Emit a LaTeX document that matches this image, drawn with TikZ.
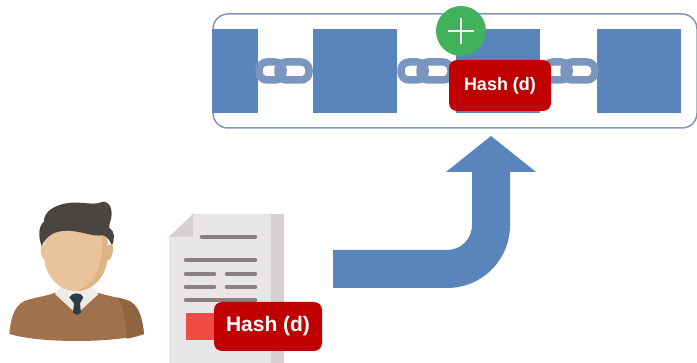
\documentclass[tikz,border=0pt]{standalone}
\usepackage{fontspec}
\setmainfont{Liberation Sans}
\definecolor{blk}{HTML}{5A85BC}
\definecolor{lnk}{HTML}{7A95BE}
\definecolor{hashred}{HTML}{C00000}
\definecolor{grn}{HTML}{41B15C}
\definecolor{frame}{HTML}{8197BA}
\definecolor{docbody}{HTML}{E9E6EA}
\definecolor{docband}{HTML}{D6CFD4}
\definecolor{docline}{HTML}{8B8080}
\definecolor{docmark}{HTML}{F44A46}
\definecolor{hair}{HTML}{4B4541}
\definecolor{skin}{HTML}{E9C39A}
\definecolor{skind}{HTML}{DDB284}
\definecolor{sweater}{HTML}{A0714A}
\definecolor{sweaterd}{HTML}{8F6640}
\definecolor{tie}{HTML}{2F3C46}
\definecolor{shirt}{HTML}{ECEBE6}
\tikzset{
 x=1pt,y=-1pt,
 block/.style={fill=blk,draw=none},
 hashbox/.style={fill=hashred,rounded corners=8pt,text=white,font=\bfseries,inner sep=0pt,align=center},
 linkring/.style={draw=lnk,line width=7.5pt,rounded corners=8pt},
 docrule/.style={draw=docline,line width=4.6pt,line cap=round},
}
\newcommand{\chainlink}[1]{%
 \begin{scope}[shift={(#1,71)}]
  \draw[linkring] (-25,-9) rectangle (-1,9);
  \draw[linkring] (-6,-9) rectangle (25,9);
 \end{scope}}
\begin{document}
\begin{tikzpicture}
\useasboundingbox (0,0) rectangle (697,363);
\fill[white] (0,0) rectangle (697,363);
% chain frame
\begin{scope}
\clip (0,0) rectangle (697,363);
\draw[frame,line width=1.5pt,rounded corners=15pt,fill=white] (213,14) rectangle (697,128);
\end{scope}
\path[block] (212,29) rectangle (258,113);
\path[block] (313,29) rectangle (397,113);
\path[block] (456,29) rectangle (540,113);
\path[block] (597,29) rectangle (681,113);
\chainlink{284}\chainlink{426}\chainlink{570}
\node[circle,fill=grn,minimum size=50pt,inner sep=0pt] (plus) at (461,31) {};
\draw[white,line width=1.2pt] (plus.center) ++(-13,0) -- ++(26,0);
\draw[white,line width=1.2pt] (plus.center) ++(0,-13) -- ++(0,26);
\node[hashbox,minimum width=102pt,minimum height=51pt] (hashtop) at (500,85.5) {\fontsize{18pt}{20pt}\selectfont Hash (d)};
% arrow
\fill[blk] (333,250) -- (447,250) .. controls (461,250) and (472,239) .. (472,225) -- (472,172) -- (446,172) -- (491,136) -- (536,172) -- (510,172) -- (510,225) .. controls (510,260) and (482,288) .. (447,288) -- (333,288) -- cycle;
% person
\begin{scope}[shift={(0,190)},x=0.3333pt,y=-0.3333pt]
 \fill[sweater] (28,432) .. controls (32,390) and (40,350) .. (72,334) .. controls (100,322) and (145,318) .. (165,308) -- (295,308) .. controls (318,318) and (360,322) .. (390,334) .. controls (420,350) and (428,395) .. (432,432) .. controls (340,460) and (120,460) .. (28,432) -- cycle;
 \fill[sweaterd] (352,322) .. controls (372,345) and (378,400) .. (380,446) .. controls (400,443) and (418,437) .. (432,432) .. controls (428,395) and (420,350) .. (390,334) .. controls (378,329) and (365,326) .. (352,322) -- cycle;
 \fill[shirt] (165,312) -- (190,280) -- (270,280) -- (296,312) -- (230,372) -- cycle;
 \fill[skin] (124,165) .. controls (118,190) and (128,215) .. (142,210) -- (145,165) -- cycle;
 \fill[skind] (338,165) .. controls (342,190) and (332,218) .. (316,212) -- (310,165) -- cycle;
 \fill[skin] (133,120) -- (322,120) -- (322,200) .. controls (322,255) and (280,303) .. (228,303) .. controls (176,303) and (133,255) .. (133,200) -- cycle;
 \fill[skind] (305,125) -- (322,130) -- (322,200) .. controls (322,255) and (280,303) .. (228,303) .. controls (275,290) and (318,235) .. (305,125) -- cycle;
 \fill[hair] (125,168) .. controls (112,135) and (118,105) .. (132,95) .. controls (130,65) and (165,42) .. (215,38) .. controls (245,36) and (280,45) .. (300,38) .. controls (320,28) and (335,45) .. (335,72) .. controls (335,90) and (326,102) .. (328,113) .. controls (345,125) and (345,145) .. (336,166) .. controls (328,150) and (322,140) .. (310,136) .. controls (275,140) and (250,125) .. (205,122) .. controls (165,122) and (140,135) .. (125,168) -- cycle;
 \fill[tie] (208,322) .. controls (215,306) and (245,306) .. (250,322) -- (240,340) -- (243,368) -- (231,375) -- (219,368) -- (222,340) -- cycle;
\end{scope}
% document
\fill[docbody] (193,214) -- (284,214) -- (284,363) -- (169,363) -- (169,237) -- cycle;
\fill[docband] (271,214) rectangle (284,363);
\fill[docband] (193,214) -- (193,237) -- (169,237) -- cycle;
\draw[docrule] (202,237) -- (255,237);
\draw[docrule] (186,260) -- (255,260);
\draw[docrule] (186,274) -- (214,274);
\draw[docrule] (227,274) -- (255,274);
\draw[docrule] (186,287) -- (214,287);
\draw[docrule] (227,287) -- (255,287);
\draw[docrule] (186,300) -- (255,300);
\fill[docmark] (186,313) rectangle (214,340);
\node[hashbox,minimum width=108pt,minimum height=49pt] (hashdoc) at (268,326.5) {\fontsize{21pt}{23pt}\selectfont Hash (d)};
\end{tikzpicture}
\end{document}
